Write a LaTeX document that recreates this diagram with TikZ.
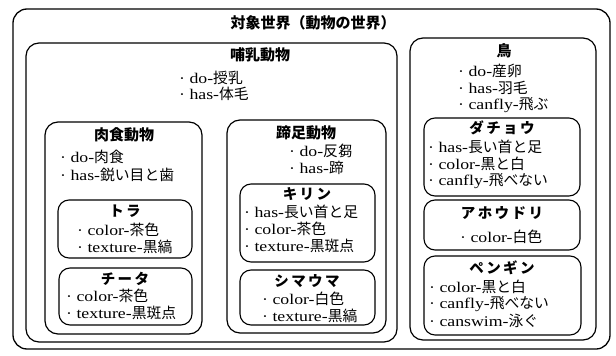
\documentclass[tikz,border=0pt]{standalone}
\usepackage{fontspec}
\setmainfont{Liberation Serif}[FakeStretch=1.2]
\newfontfamily\cjk{Noto Sans CJK JP}
\newcommand\J[1]{{\cjk #1}}
\begin{document}
\begin{tikzpicture}[x=1pt,y=-1pt,
  frame/.style={draw,line width=1.3pt,rounded corners=14pt},
  clsbox/.style={draw,line width=1.2pt,rounded corners=13pt},
  instbox/.style={draw,line width=1.1pt,rounded corners=11pt},
  head/.style={inner sep=0pt,font=\cjk\bfseries\fontsize{15}{15}\selectfont},
  iname/.style={inner sep=0pt,font=\cjk\bfseries\fontsize{14.5}{15}\selectfont},
  item/.style={anchor=west,inner sep=0pt,font=\fontsize{14.8}{15}\selectfont}]
\useasboundingbox (0,0) rectangle (616,356);
% outer world
\draw[frame] (13,9) rectangle (610,349);
\node[head] (world) at (313,23) {対象世界（動物の世界）};
% mammals
\draw[clsbox] (26,43) rectangle (397,342);
\node[head] (mam) at (260,55) {哺乳動物};
\node[item] (mam1) at (179,78) {· do-\J{授乳}};
\node[item] (mam2) at (179,94) {· has-\J{体毛}};
% carnivores
\draw[clsbox] (45,122) rectangle (202,334);
\node[head] (car) at (124,135) {肉食動物};
\node[item] (car1) at (60,157) {· do-\J{肉食}};
\node[item] (car2) at (60,175) {· has-\J{鋭い目と歯}};
% tiger
\draw[instbox] (58,200) rectangle (192,258);
\node[iname] (tora) at (125,211) {ト\,ラ};
\node[item] (tora1) at (77,230) {· color-\J{茶色}};
\node[item] (tora2) at (77,247) {· texture-\J{黒縞}};
% cheetah
\draw[instbox] (59,268) rectangle (192,325);
\node[iname] (chita) at (125,279) {チ\,ー\,タ};
\node[item] (chita1) at (66,296) {· color-\J{茶色}};
\node[item] (chita2) at (66,313) {· texture-\J{黒斑点}};
% ungulates
\draw[clsbox] (227,120) rectangle (386,333);
\node[head] (ung) at (306,133) {蹄足動物};
\node[item] (ung1) at (289,151) {· do-\J{反芻}};
\node[item] (ung2) at (289,168) {· has-\J{蹄}};
% giraffe
\draw[instbox] (240,184) rectangle (375,262);
\node[iname] (kirin) at (307,194) {キ\,リ\,ン};
\node[item] (kirin1) at (244,212) {· has-\J{長い首と足}};
\node[item] (kirin2) at (244,229) {· color-\J{茶色}};
\node[item] (kirin3) at (244,246) {· texture-\J{黒斑点}};
% zebra
\draw[instbox] (240,270) rectangle (375,325);
\node[iname] (shima) at (307,281) {シ\,マ\,ウ\,マ};
\node[item] (shima1) at (262,299) {· color-\J{白色}};
\node[item] (shima2) at (262,316) {· texture-\J{黒縞}};
% birds
\draw[clsbox] (410,38) rectangle (596,340);
\node[head] (tori) at (504,51) {鳥};
\node[item] (tori1) at (458,71) {· do-\J{産卵}};
\node[item] (tori2) at (458,88) {· has-\J{羽毛}};
\node[item] (tori3) at (458,105) {· canfly-\J{飛ぶ}};
% ostrich
\draw[instbox] (424,118) rectangle (580,196);
\node[iname] (dacho) at (502,128) {ダ\,チ\,ョ\,ウ};
\node[item] (dacho1) at (428,147) {· has-\J{長い首と足}};
\node[item] (dacho2) at (428,164) {· color-\J{黒と白}};
\node[item] (dacho3) at (428,181) {· canfly-\J{飛べない}};
% albatross
\draw[instbox] (424,200) rectangle (580,250);
\node[iname] (aho) at (502,213) {ア\,ホ\,ウ\,ド\,リ};
\node[item] (aho1) at (460,237) {· color-\J{白色}};
% penguin
\draw[instbox] (424,256) rectangle (581,335);
\node[iname] (pen) at (502,268) {ペ\,ン\,ギ\,ン};
\node[item] (pen1) at (429,287) {· color-\J{黒と白}};
\node[item] (pen2) at (429,304) {· canfly-\J{飛べない}};
\node[item] (pen3) at (429,321) {· canswim-\J{泳ぐ}};
\end{tikzpicture}
\end{document}
